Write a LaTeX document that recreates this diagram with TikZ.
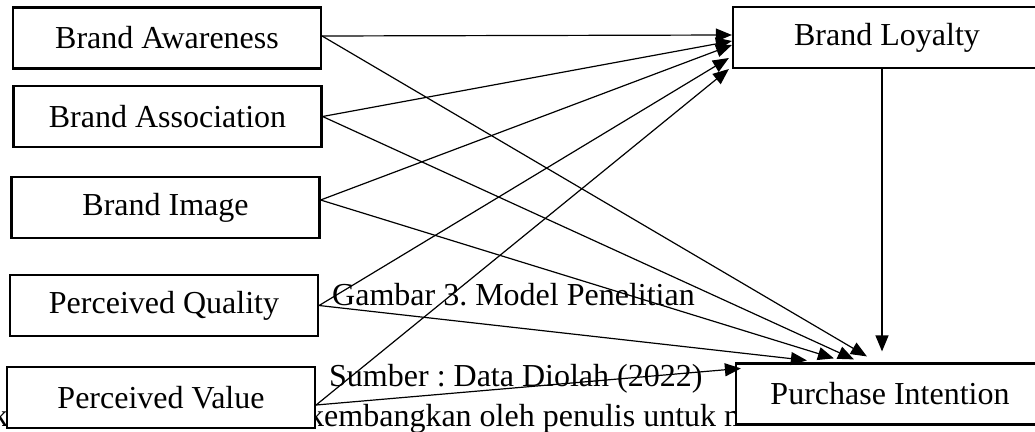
\documentclass[tikz,border=0pt]{standalone}
\usepackage{fontspec}
\setmainfont{Liberation Serif}
\usetikzlibrary{arrows.meta,calc}
\frenchspacing

\begin{document}
\begin{tikzpicture}[x=1pt, y=1pt, main node/.style={draw, fill=white, line width=2.2pt, minimum width=308pt, minimum height=61pt, inner sep=0pt, font=\fontsize{32}{36}\selectfont}, note/.style={inner sep=0pt, anchor=base west, font=\fontsize{32}{36}\selectfont}, link/.style={-{Triangle[length=16pt,width=13pt]}, line width=1.2pt}]

			\useasboundingbox (0,0) rectangle (1035,-431);
			\clip (0,0) rectangle (1035,-431);

			% text lying under the figure
			\node[note] (t1) at (332,-305) {Gambar 3. Model Penelitian};
			\node[note] (t2) at (329,-386) {Sumber : Data Diolah (2022)};
			\node[note] (t3) at (308,-426) {kembangkan oleh penulis untuk m};
			\node[note] (t4) at (-8,-426) {k};

			\node[main node] (1) at (167,-38) {Brand Awareness};
			\node[main node] (2) at (167.5,-116.5) {Brand Association};
			\node[main node] (3) at (165.5,-207.5) {Brand Image};
			\node[main node] (4) at (164,-305.5) {Perceived Quality};
			\node[main node] (5) at (161,-397.5) {Perceived Value};

			\node[main node] (6) at (887,-37.5) {Brand Loyalty};
			\node[main node] (7) at (890,-394) {Purchase Intention};

			% draw paths to brand loyalty
			\draw[link] ([yshift=2pt]1.east) -- ([yshift=2.5pt]6.west);
			\draw[link] (2.east) -- ([yshift=-3.5pt]6.west);
			\draw[link] ([yshift=7.5pt]3.east) -- ([yshift=-7.5pt]6.west);
			\draw[link] (4.east) -- ([xshift=-3pt,yshift=-20.5pt]6.west);
			\draw[link] ([yshift=-7.5pt]5.east) -- ([xshift=-3pt,yshift=-31.5pt]6.west);

			% draw paths to purchase intention
			\draw[link] ([yshift=2pt]1.east) -- ([xshift=132pt,yshift=6pt]7.north west);
			\draw[link] (2.east) -- ([xshift=119pt,yshift=3pt]7.north west);
			\draw[link] ([yshift=7.5pt]3.east) -- ([xshift=99pt,yshift=4pt]7.north west);
			\draw[link] (4.east) -- ([xshift=72pt,yshift=2pt]7.north west);
			\draw[link] ([yshift=-7.5pt]5.east) -- ([xshift=6pt,yshift=-6pt]7.north west);

			% draw loyalty to intention
			\draw[link] ([xshift=-5pt]6.south) -- ($(6.south |- 7.north)+(-5,11)$);

		\end{tikzpicture}
\end{document}
